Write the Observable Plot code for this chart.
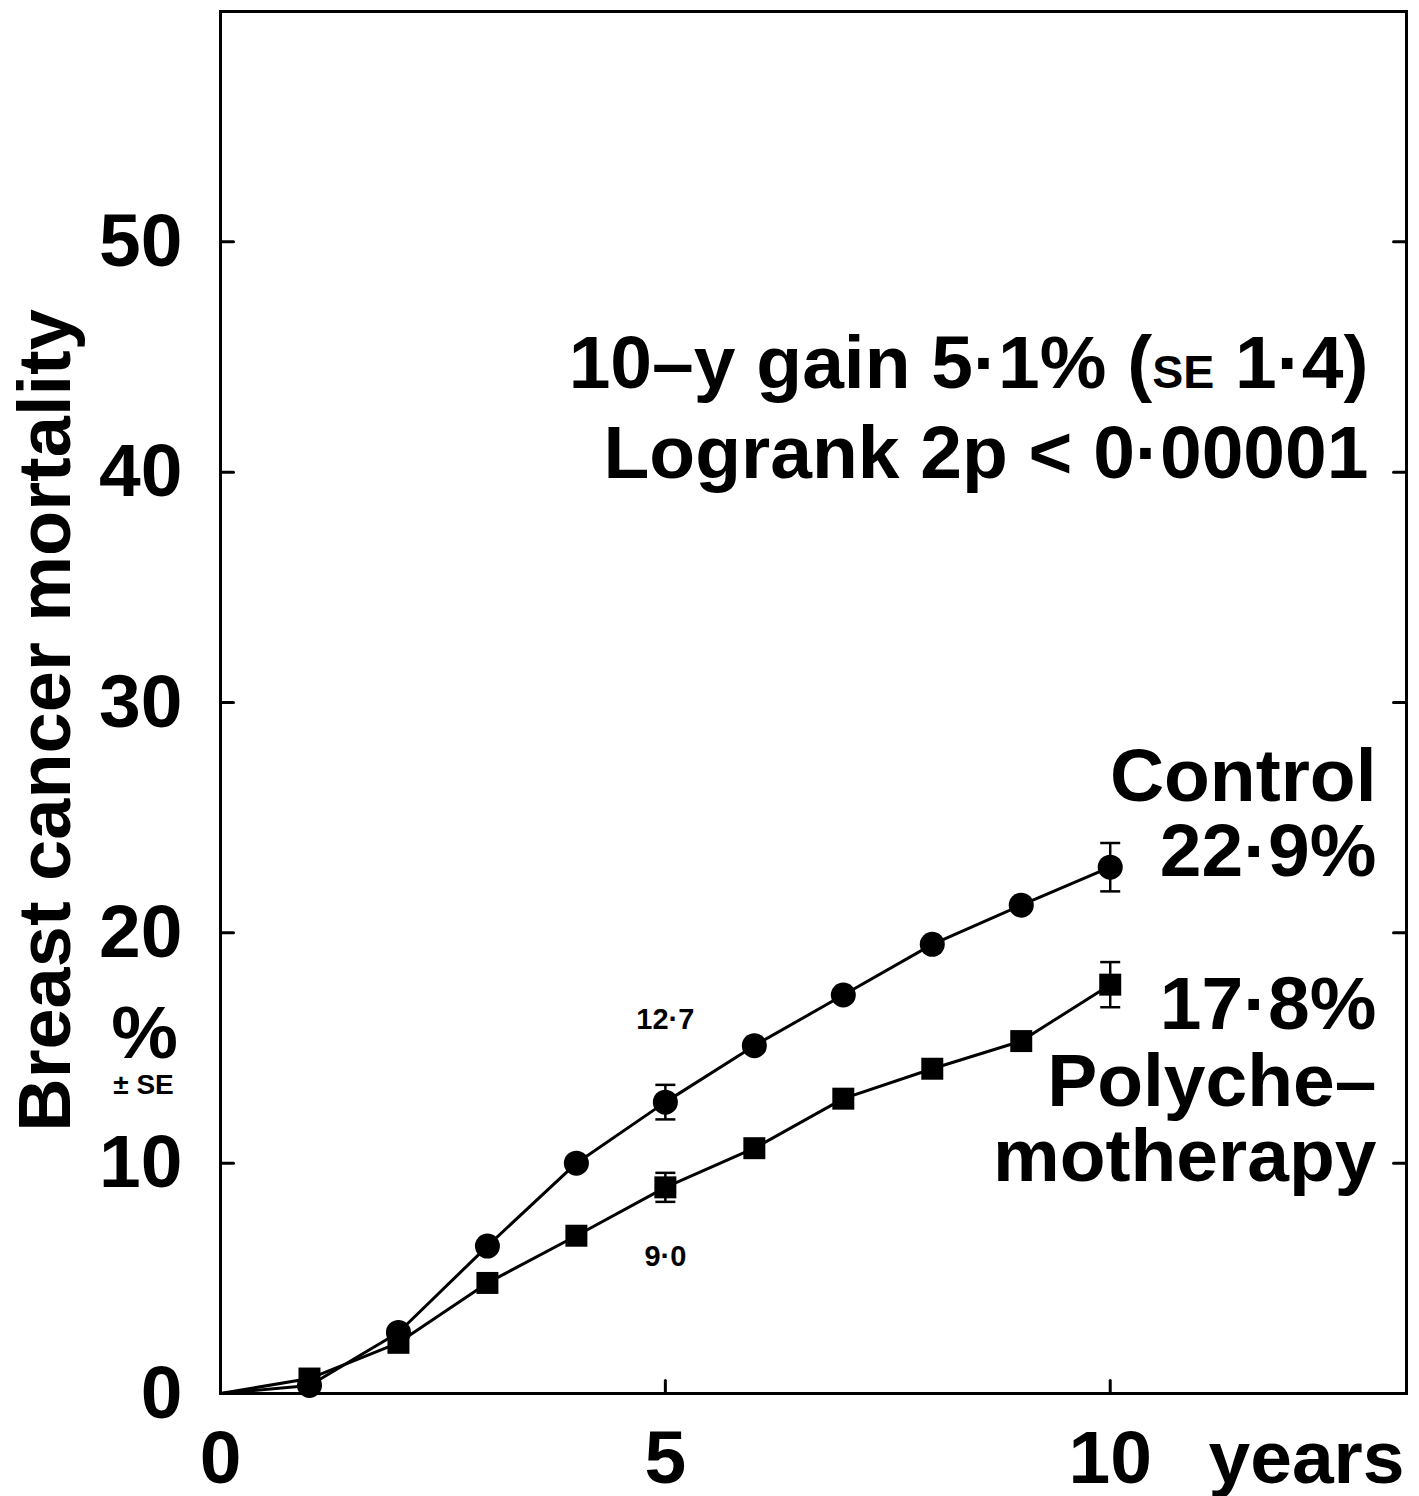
<!DOCTYPE html>
<html>
<head>
<meta charset="utf-8">
<script src="https://cdn.jsdelivr.net/npm/d3@7"></script>
<script src="https://cdn.jsdelivr.net/npm/@observablehq/plot@0.6"></script>
<style>
  html, body { margin: 0; padding: 0; background: #fff; }
  svg { display: block; }
</style>
</head>
<body>
<div id="chart"></div>
<script>
// ---- Data ----
const years = [0, 1, 2, 3, 4, 5, 6, 7, 8, 9, 10];
const controlMortality = [0, 0.35, 2.65, 6.4, 10.0, 12.65, 15.1, 17.3, 19.5, 21.2, 22.85];
const polyMortality = [0, 0.65, 2.2, 4.8, 6.85, 8.95, 10.65, 12.8, 14.1, 15.3, 17.75];
const seYears = [5, 10];
const controlSE = [0.75, 1.05];
const polySE = [0.63, 0.98];
const xTickValues = [0, 5, 10];
const yTickValues = [0, 10, 20, 30, 40, 50];
const groups = ["Control", "Polychemotherapy"];

const xLabel = "years";
const yLabel = "Breast cancer mortality";
const statLine1 = "10–y gain 5·1% (SE 1·4)";
const statLine2 = "Logrank 2p < 0·00001";
const controlLabel = ["Control", "22·9%"];
const polyLabel = ["17·8%", "Polyche–", "motherapy"];
const fiveYearLabels = ["12·7", "9·0"];

// ---- Tables built from arrays ----
const series = [];
years.forEach((yr, i) => {
  series.push({year: yr, value: controlMortality[i], group: groups[0]});
  series.push({year: yr, value: polyMortality[i], group: groups[1]});
});
const errors = [];
seYears.forEach((yr, i) => {
  const idx = years.indexOf(yr);
  errors.push({year: yr, value: controlMortality[idx], se: controlSE[i]});
  errors.push({year: yr, value: polyMortality[idx], se: polySE[i]});
});
const caps = errors.flatMap(d => [{year: d.year, v: d.value - d.se}, {year: d.year, v: d.value + d.se}]);

const FONT = "'Liberation Sans', Arial, Helvetica, sans-serif";
const tickShape = {draw(ctx, l) { ctx.moveTo(0, 0); ctx.lineTo(0, -l); }};
const capSymbol = {draw(ctx, size) { const r = Math.sqrt(size / Math.PI); ctx.moveTo(-r, 0); ctx.lineTo(r, 0); }};

const bold = {fontWeight: "bold", fill: "#000"};
const rightText = (txt, dy, dx, fs) => Plot.text([txt], {
  frameAnchor: "top-right", textAnchor: "end", lineAnchor: "middle",
  dx, dy, fontSize: fs, ...bold
});

const chart = Plot.plot({
  width: 1419,
  height: 1496,
  marginLeft: 220,
  marginRight: 13,
  marginTop: 11,
  marginBottom: 103,
  x: {domain: [0, 13.33]},
  y: {domain: [0, 60]},
  style: {fontFamily: FONT, background: "#fff", color: "#000", overflow: "visible"},
  marks: [
    Plot.frame({stroke: "#000", strokeWidth: 3}),
    // inward ticks
    Plot.vector(yTickValues.filter(d => d > 0), {y: d => d, frameAnchor: "left", anchor: "start", length: 13, rotate: 90, shape: tickShape, stroke: "#000", strokeWidth: 3}),
    Plot.vector(yTickValues.filter(d => d > 0), {y: d => d, frameAnchor: "right", anchor: "start", length: 13, rotate: -90, shape: tickShape, stroke: "#000", strokeWidth: 3}),
    Plot.vector(xTickValues.filter(d => d > 0), {x: d => d, frameAnchor: "bottom", anchor: "start", length: 13, rotate: 0, shape: tickShape, stroke: "#000", strokeWidth: 3}),
    // tick labels
    Plot.axisY(yTickValues, {anchor: "left", tickSize: 0, tickPadding: 38, fontSize: 75, fontWeight: "bold", label: null}),
    Plot.axisX(xTickValues, {anchor: "bottom", tickSize: 0, tickPadding: 36, fontSize: 75, fontWeight: "bold", label: null}),
    Plot.text([xLabel], {frameAnchor: "bottom-right", textAnchor: "end", lineAnchor: "top", dx: -2, dy: 36, fontSize: 75, ...bold}),
    // y axis title
    Plot.text([yLabel], {frameAnchor: "left", rotate: -90, textAnchor: "middle", lineAnchor: "middle", dx: -174, dy: 18, fontSize: 74, ...bold}),
    Plot.text(["%"], {frameAnchor: "left", textAnchor: "middle", lineAnchor: "middle", dx: -76, dy: 331, fontSize: 75, ...bold}),
    Plot.text(["± SE"], {frameAnchor: "left", textAnchor: "middle", lineAnchor: "middle", dx: -77, dy: 383, fontSize: 28, ...bold}),
    // data lines
    Plot.line(series, {x: "year", y: "value", z: "group", stroke: "#000", strokeWidth: 3}),
    // error bars
    Plot.ruleX(errors, {x: "year", y1: d => d.value - d.se, y2: d => d.value + d.se, stroke: "#000", strokeWidth: 2.5}),
    Plot.dot(caps, {x: "year", y: "v", symbol: capSymbol, r: 10, stroke: "#000", strokeWidth: 2.5, fill: "none"}),
    // markers
    Plot.dot(series.filter(d => d.year > 0 && d.group === groups[0]), {x: "year", y: "value", symbol: "circle", r: 12.5, fill: "#000", stroke: "none"}),
    Plot.dot(series.filter(d => d.year > 0 && d.group === groups[1]), {x: "year", y: "value", symbol: "square", r: 12.4, fill: "#000", stroke: "none"}),
    // 5-year values
    Plot.text([fiveYearLabels[0]], {x: () => seYears[0], frameAnchor: "top", textAnchor: "middle", lineAnchor: "middle", dy: 1008, fontSize: 29, ...bold}),
    Plot.text([fiveYearLabels[1]], {x: () => seYears[0], frameAnchor: "top", textAnchor: "middle", lineAnchor: "middle", dy: 1245, fontSize: 29, ...bold}),
    // statistics
    rightText(statLine1, 352, -38, 75),
    rightText(statLine2, 442, -38, 75),
    // group labels
    rightText(controlLabel[0], 765, -30, 75),
    rightText(controlLabel[1], 840, -30, 75),
    rightText(polyLabel[0], 993, -30, 75),
    rightText(polyLabel[1], 1070, -30, 75),
    rightText(polyLabel[2], 1145, -30, 75)
  ]
});

// small caps "SE" inside the statistics line
for (const t of chart.querySelectorAll("text")) {
  if (t.textContent === statLine1) {
    const i = statLine1.indexOf("SE");
    const parts = [[statLine1.slice(0, i), null], ["SE", "0.62em"], [statLine1.slice(i + 2), null]];
    t.textContent = "";
    for (const [s, fs] of parts) {
      const sp = document.createElementNS("http://www.w3.org/2000/svg", "tspan");
      if (fs) sp.setAttribute("font-size", fs);
      sp.textContent = s;
      t.appendChild(sp);
    }
  }
}

document.getElementById("chart").appendChild(chart);
</script>
</body>
</html>
